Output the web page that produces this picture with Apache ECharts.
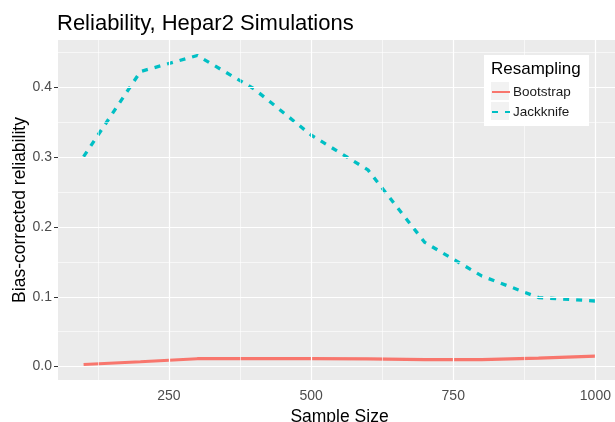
<!DOCTYPE html>
<html><head><meta charset="utf-8">
<script src="https://cdn.jsdelivr.net/npm/echarts@6/dist/echarts.min.js"></script>
<style>html,body{margin:0;padding:0;background:#fff}#c{width:615px;height:422px}</style>
</head><body><div id="c"></div>
<script>
const sampleSizes = [100, 200, 300, 400, 500, 600, 700, 800, 900, 1000];
const bootstrap = [0.003, 0.007, 0.0113, 0.0113, 0.0113, 0.0112, 0.0100, 0.0099, 0.0123, 0.015];
const jackknife = [0.301, 0.423, 0.446, 0.398, 0.332, 0.282, 0.178, 0.130, 0.099, 0.094];
const xMajor = [250, 500, 750, 1000];
const xMinor = [125, 375, 625, 875];
const yMajor = [0, 0.1, 0.2, 0.3, 0.4];
const yMinor = [0.05, 0.15, 0.25, 0.35, 0.45];
const seriesNames = ['Bootstrap', 'Jackknife'];
const yTitle = 'Bias-corrected reliability';

const FONT = 'Liberation Sans, Arial, sans-serif';
const xMin = 55, xMax = 1045, yMin = -0.0192, yMax = 0.4682;

const gridLines = [];
xMinor.forEach(v => gridLines.push({xAxis: v, lineStyle: {width: 0.6}}));
yMinor.forEach(v => gridLines.push({yAxis: v, lineStyle: {width: 0.6}}));
xMajor.forEach(v => gridLines.push({xAxis: v, lineStyle: {width: 1.2}}));
yMajor.forEach(v => gridLines.push({yAxis: v, lineStyle: {width: 1.2}}));

const chart = echarts.init(document.getElementById('c'), null, {renderer: 'canvas'});
chart.setOption({
  animation: false,
  textStyle: {fontFamily: FONT},
  title: {
    text: 'Reliability, Hepar2 Simulations', left: 57, top: 13, padding: 0,
    textStyle: {fontSize: 22, fontWeight: 'normal', color: '#000', fontFamily: FONT}
  },
  grid: {left: 58, top: 40, right: -6, bottom: 42, show: true, backgroundColor: '#EBEBEB', borderWidth: 0,
    containLabel: false, outerBoundsMode: 'none'},
  xAxis: {
    type: 'value', min: xMin, max: xMax,
    name: 'Sample Size', nameLocation: 'middle', nameGap: 28,
    nameTextStyle: {fontSize: 17.5, color: '#000', fontFamily: FONT},
    axisLine: {show: false},
    axisTick: {show: true, length: 4, customValues: xMajor, lineStyle: {color: '#333', width: 1}},
    axisLabel: {customValues: xMajor, fontSize: 14, color: '#4D4D4D', margin: 9, fontFamily: FONT,
      formatter: v => String(v)},
    splitLine: {show: false}
  },
  yAxis: {
    type: 'value', min: yMin, max: yMax,
    axisLine: {show: false},
    axisTick: {show: true, length: 4, customValues: yMajor, lineStyle: {color: '#333', width: 1}},
    axisLabel: {customValues: yMajor, fontSize: 14, color: '#4D4D4D', margin: 6, fontFamily: FONT,
      formatter: v => v.toFixed(1)},
    splitLine: {show: false}
  },
  legend: {
    data: seriesNames, orient: 'vertical', left: 491, top: 85, z: 100, padding: 0,
    itemWidth: 18, itemHeight: 14, itemGap: 6,
    itemStyle: {opacity: 0},
    textStyle: {fontSize: 13.5, color: '#1A1A1A', fontFamily: FONT, padding: [0, 0, 0, -2]}
  },
  graphic: [
    {type: 'rect', left: 484, top: 55, shape: {width: 105, height: 71}, style: {fill: '#fff'}, z: 50},
    {type: 'rect', left: 491, top: 82, shape: {width: 18, height: 18}, style: {fill: '#F2F2F2'}, z: 51},
    {type: 'rect', left: 491, top: 102, shape: {width: 18, height: 18}, style: {fill: '#F2F2F2'}, z: 51},
    {type: 'text', left: 491, top: 61, style: {text: 'Resampling', fontSize: 17, fill: '#000', fontFamily: FONT}, z: 52},
    {type: 'text', x: 20, y: 210, rotation: Math.PI / 2,
      style: {text: yTitle, fontSize: 17.5, fill: '#000', fontFamily: FONT, align: 'center', verticalAlign: 'middle'}, z: 52}
  ],
  series: [
    {
      name: '_grid', type: 'line', data: [], z: 1, silent: true,
      markLine: {silent: true, symbol: 'none', label: {show: false}, animation: false,
        lineStyle: {color: '#fff', type: 'solid'}, emphasis: {disabled: true}, data: gridLines}
    },
    {
      name: seriesNames[0], type: 'line', showSymbol: false, symbol: 'none', z: 3,
      data: sampleSizes.map((x, i) => [x, bootstrap[i]]),
      lineStyle: {color: '#F8766D', width: 3.2, cap: 'butt'}, itemStyle: {color: '#F8766D'}
    },
    {
      name: seriesNames[1], type: 'line', showSymbol: false, symbol: 'none', z: 3,
      data: sampleSizes.map((x, i) => [x, jackknife[i]]),
      lineStyle: {color: '#00BFC4', width: 3.3, type: [6, 7], cap: 'butt'}, itemStyle: {color: '#00BFC4'}
    }
  ]
});
</script></body></html>
